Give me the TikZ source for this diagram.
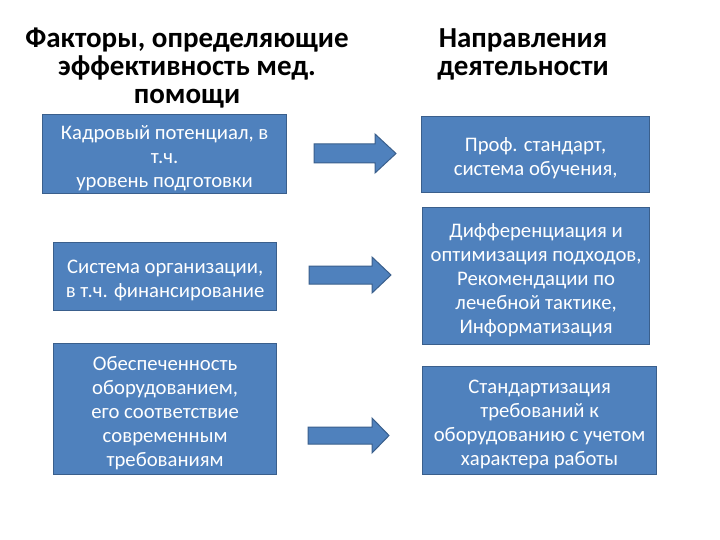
\documentclass[tikz,border=0pt]{standalone}
\usepackage{fontspec}
\setmainfont{Carlito}
\newcommand{\mytopstrut}{\rule{0pt}{21.5pt}}
\begin{document}
\begin{tikzpicture}[x=1pt,y=-1pt,
  bluebox/.style={draw=boxborder,line width=1.2pt,fill=boxfill,text=white,
    align=center,inner sep=0pt,anchor=north west,
    font=\fontsize{20.7}{24}\selectfont},
  titletext/.style={align=center,font=\bfseries\fontsize{29}{28}\selectfont},
  blockarrow/.style={draw=boxborder,line width=1pt,fill=boxfill}]
\definecolor{boxfill}{HTML}{4F81BD}
\definecolor{boxborder}{HTML}{3A5F8C}
\useasboundingbox (0,0) rectangle (720,540);
\fill[white] (0,0) rectangle (720,540);

\node[titletext] (t1) at (187,68) {Факторы, определяющие\\эффективность мед.\\помощи};
\node[titletext] (t2) at (523,54) {Направления\\деятельности};

\node[bluebox,minimum width=244pt,minimum height=79pt] (l1) at (42,114)
  {\mytopstrut Кадровый потенциал, в\\т.ч.\\уровень подготовки};
\node[bluebox,minimum width=223pt,minimum height=68pt] (l2) at (53,242)
  {\mytopstrut Система организации,\\в т.ч. финансирование};
\node[bluebox,minimum width=223pt,minimum height=131pt] (l3) at (53,343)
  {\mytopstrut Обеспеченность\\оборудованием,\\его соответствие\\современным\\требованиям};

\node[bluebox,minimum width=228pt,minimum height=76pt] (r1) at (421,116)
  {\mytopstrut Проф. стандарт,\\система обучения,};
\node[bluebox,minimum width=227pt,minimum height=137pt] (r2) at (422,207)
  {\mytopstrut Дифференциация и\\оптимизация подходов,\\Рекомендации по\\лечебной тактике,\\Информатизация};
\node[bluebox,minimum width=234pt,minimum height=108pt] (r3) at (422,366)
  {\mytopstrut Стандартизация\\требований к\\оборудованию с учетом\\характера работы};

\draw[blockarrow] (314,144) -- (375,144) -- (375,134) -- (396,153.5) -- (375,173) -- (375,163) -- (314,163) -- cycle;
\draw[blockarrow] (309,266) -- (372,266) -- (372,257) -- (391,275) -- (372,293) -- (372,284) -- (309,284) -- cycle;
\draw[blockarrow] (308,427) -- (372,427) -- (372,418) -- (389,435.5) -- (372,453) -- (372,444) -- (308,444) -- cycle;
\end{tikzpicture}
\end{document}
